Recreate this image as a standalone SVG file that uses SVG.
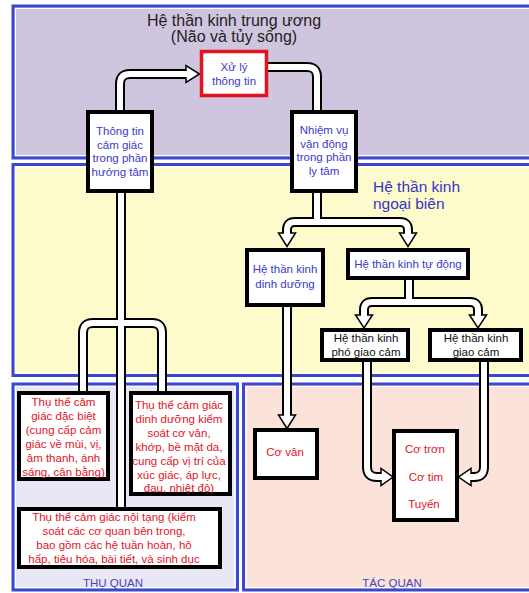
<svg xmlns="http://www.w3.org/2000/svg" width="529" height="593" viewBox="0 0 529 593">
<style>
text{font-family:"Liberation Sans",Arial,sans-serif;}
.panel{stroke:#3a48d0;stroke-width:3;}
.inner{fill:none;stroke:#ffffff;stroke-width:1;}
.box{fill:#ffffff;stroke:#000000;stroke-width:4;}
.redbox{fill:#ffffff;stroke:#e3141f;stroke-width:3.5;}
.pipeO{fill:none;stroke:#000000;stroke-width:10;}
.pipeI{fill:none;stroke:#ffffff;stroke-width:6;}
.head{fill:#ffffff;stroke:#000000;stroke-width:1.5;stroke-linejoin:miter;}
.tb{font-size:11.5px;fill:#3a3ac8;text-anchor:middle;}
.tr{font-size:11.5px;fill:#e3141f;text-anchor:middle;}
.tk{font-size:11.5px;fill:#111111;text-anchor:middle;}
.lbl{font-size:11.5px;fill:#4646c0;text-anchor:middle;}
</style>
<rect width="529" height="593" fill="#ffffff"/>
<g id="panels">
  <rect class="panel" x="13" y="6" width="530" height="152" fill="#d0c5df"/>
  <rect class="inner" x="15.5" y="8.5" width="530" height="147"/>
  <rect class="panel" x="13" y="164.5" width="530" height="211" fill="#fdfbcb"/>
  <rect class="inner" x="15.5" y="167" width="530" height="206"/>
  <rect class="panel" x="13" y="384" width="224.5" height="206" fill="#e9e7f4"/>
  <rect class="inner" x="15.5" y="386.5" width="219.5" height="201"/>
  <rect class="panel" x="243.5" y="384" width="300" height="206" fill="#fbe3d9"/>
  <rect class="inner" x="246" y="386.5" width="300" height="201"/>
  <text x="234" y="26" font-size="16" fill="#222222" text-anchor="middle">Hệ thần kinh trung ương</text>
  <text x="234" y="42" font-size="16" fill="#222222" text-anchor="middle">(Não và tủy sống)</text>
  <text x="373" y="192" font-size="15.5" fill="#3535c8">Hệ thần kinh</text>
  <text x="373" y="209" font-size="15.5" fill="#3535c8">ngoại biên</text>
  <text class="lbl" x="113" y="587">THỤ QUAN</text>
  <text class="lbl" x="392" y="587">TÁC QUAN</text>
</g>
<g id="connectors">
  <g class="pipeO">
    <path d="M120,112 V84 Q120,74 130,74 H187"/>
    <path d="M266,67 H307 Q317,67 317,77 V112"/>
    <path d="M317,191 V222"/>
    <path d="M287,234 V230 Q287,222 295,222 H400 Q408,222 408,230 V234"/>
    <path d="M409,278 V302"/>
    <path d="M364,316 V310 Q364,302 372,302 H470 Q478,302 478,310 V316"/>
    <path d="M287,305 V416"/>
    <path d="M367,360 V467 Q367,477 377,477 H382"/>
    <path d="M484,360 V467 Q484,477 474,477 H470"/>
    <path d="M121,191 V509"/>
    <path d="M83,393 V333 Q83,323 93,323 H152 Q162,323 162,333 V393"/>
  </g>
  <polygon class="head" points="186,65.5 186,82.5 199.5,74"/>
  <polygon class="head" points="278.5,233 295.5,233 287,246.5"/>
  <polygon class="head" points="399.5,233 416.5,233 408,246.5"/>
  <polygon class="head" points="355.5,315 372.5,315 364,328"/>
  <polygon class="head" points="469.5,315 486.5,315 478,328"/>
  <polygon class="head" points="278.5,415 295.5,415 287,428.5"/>
  <polygon class="head" points="381,468.5 381,485.5 393,477"/>
  <polygon class="head" points="471,468.5 471,485.5 458.5,477"/>
  <g class="pipeI">
    <path d="M120,112 V84 Q120,74 130,74 H188"/>
    <path d="M266,67 H307 Q317,67 317,77 V112"/>
    <path d="M317,191 V222"/>
    <path d="M287,235 V230 Q287,222 295,222 H400 Q408,222 408,230 V235"/>
    <path d="M409,278 V302"/>
    <path d="M364,317 V310 Q364,302 372,302 H470 Q478,302 478,310 V317"/>
    <path d="M287,305 V417"/>
    <path d="M367,360 V467 Q367,477 377,477 H383"/>
    <path d="M484,360 V467 Q484,477 474,477 H469"/>
    <path d="M121,191 V509"/>
    <path d="M83,395 V333 Q83,323 93,323 H152 Q162,323 162,333 V395"/>
  </g>
</g>
<g id="xuly">
  <rect class="redbox" x="201.5" y="51.5" width="65" height="44"/>
  <text class="tb" x="234" y="71">Xử lý</text>
  <text class="tb" x="234" y="85">thông tin</text>
</g>
<g id="thongtin">
  <rect class="box" x="88" y="112" width="64" height="79"/>
  <text class="tb" x="120" y="135">Thông tin</text>
  <text class="tb" x="120" y="148.5">cảm giác</text>
  <text class="tb" x="120" y="162">trong phần</text>
  <text class="tb" x="120" y="175.5">hướng tâm</text>
</g>
<g id="nhiemvu">
  <rect class="box" x="292" y="112" width="64" height="79"/>
  <text class="tb" x="324" y="134">Nhiệm vụ</text>
  <text class="tb" x="324" y="147.5">vận động</text>
  <text class="tb" x="324" y="161">trong phần</text>
  <text class="tb" x="324" y="174.5">ly tâm</text>
</g>
<g id="dinhduong">
  <rect class="box" x="247" y="250" width="76" height="55"/>
  <text class="tb" x="285" y="273">Hệ thần kinh</text>
  <text class="tb" x="285" y="288">dinh dưỡng</text>
</g>
<g id="tudong">
  <rect class="box" x="348" y="250" width="120" height="28"/>
  <text class="tb" x="408" y="268">Hệ thần kinh tự động</text>
</g>
<g id="phogiaocam">
  <rect class="box" x="322" y="330" width="86" height="30"/>
  <text class="tk" x="366" y="342">Hệ thần kinh</text>
  <text class="tk" x="366" y="355.5">phó giao cảm</text>
</g>
<g id="giaocam">
  <rect class="box" x="430" y="330" width="91" height="30"/>
  <text class="tk" x="476" y="342">Hệ thần kinh</text>
  <text class="tk" x="476" y="355.5">giao cảm</text>
</g>
<g id="covan">
  <rect class="box" x="255" y="430" width="62" height="48"/>
  <text class="tr" x="285" y="456">Cơ vân</text>
</g>
<g id="cotron">
  <rect class="box" x="394" y="431" width="63" height="89"/>
  <text class="tr" x="425" y="453">Cơ trơn</text>
  <text class="tr" x="426" y="481">Cơ tim</text>
  <text class="tr" x="424" y="508">Tuyến</text>
</g>
<g id="thuthe-dacbiet">
  <rect class="box" x="19" y="393" width="89" height="86"/>
  <text class="tr" x="63.5" y="406">Thụ thể cảm</text>
  <text class="tr" x="63.5" y="420">giác đặc biệt</text>
  <text class="tr" x="63.5" y="434">(cung cấp cảm</text>
  <text class="tr" x="63.5" y="448">giác về mùi, vị,</text>
  <text class="tr" x="63.5" y="462">âm thanh, ánh</text>
  <text class="tr" x="63.5" y="475.5">sáng, cân bằng)</text>
</g>
<g id="thuthe-dinhduong">
  <rect class="box" x="131" y="393" width="99" height="101"/>
  <text class="tr" x="179" y="409">Thụ thể cảm giác</text>
  <text class="tr" x="179" y="423">dinh dưỡng kiểm</text>
  <text class="tr" x="179" y="437">soát cơ vân,</text>
  <text class="tr" x="179" y="451">khớp, bề mặt da,</text>
  <text class="tr" x="179" y="465">cung cấp vị trí của</text>
  <text class="tr" x="179" y="478.5">xúc giác, áp lực,</text>
  <text class="tr" x="179" y="492">đau, nhiệt độ)</text>
</g>
<g id="thuthe-noitang">
  <rect class="box" x="19" y="509" width="201" height="58"/>
  <text class="tr" x="114" y="521">Thụ thể cảm giác nội tạng (kiểm</text>
  <text class="tr" x="114" y="535">soát các cơ quan bên trong,</text>
  <text class="tr" x="114" y="549">bao gồm các hệ tuần hoàn, hô</text>
  <text class="tr" x="114" y="563">hấp, tiêu hóa, bài tiết, và sinh dục</text>
</g>
</svg>
